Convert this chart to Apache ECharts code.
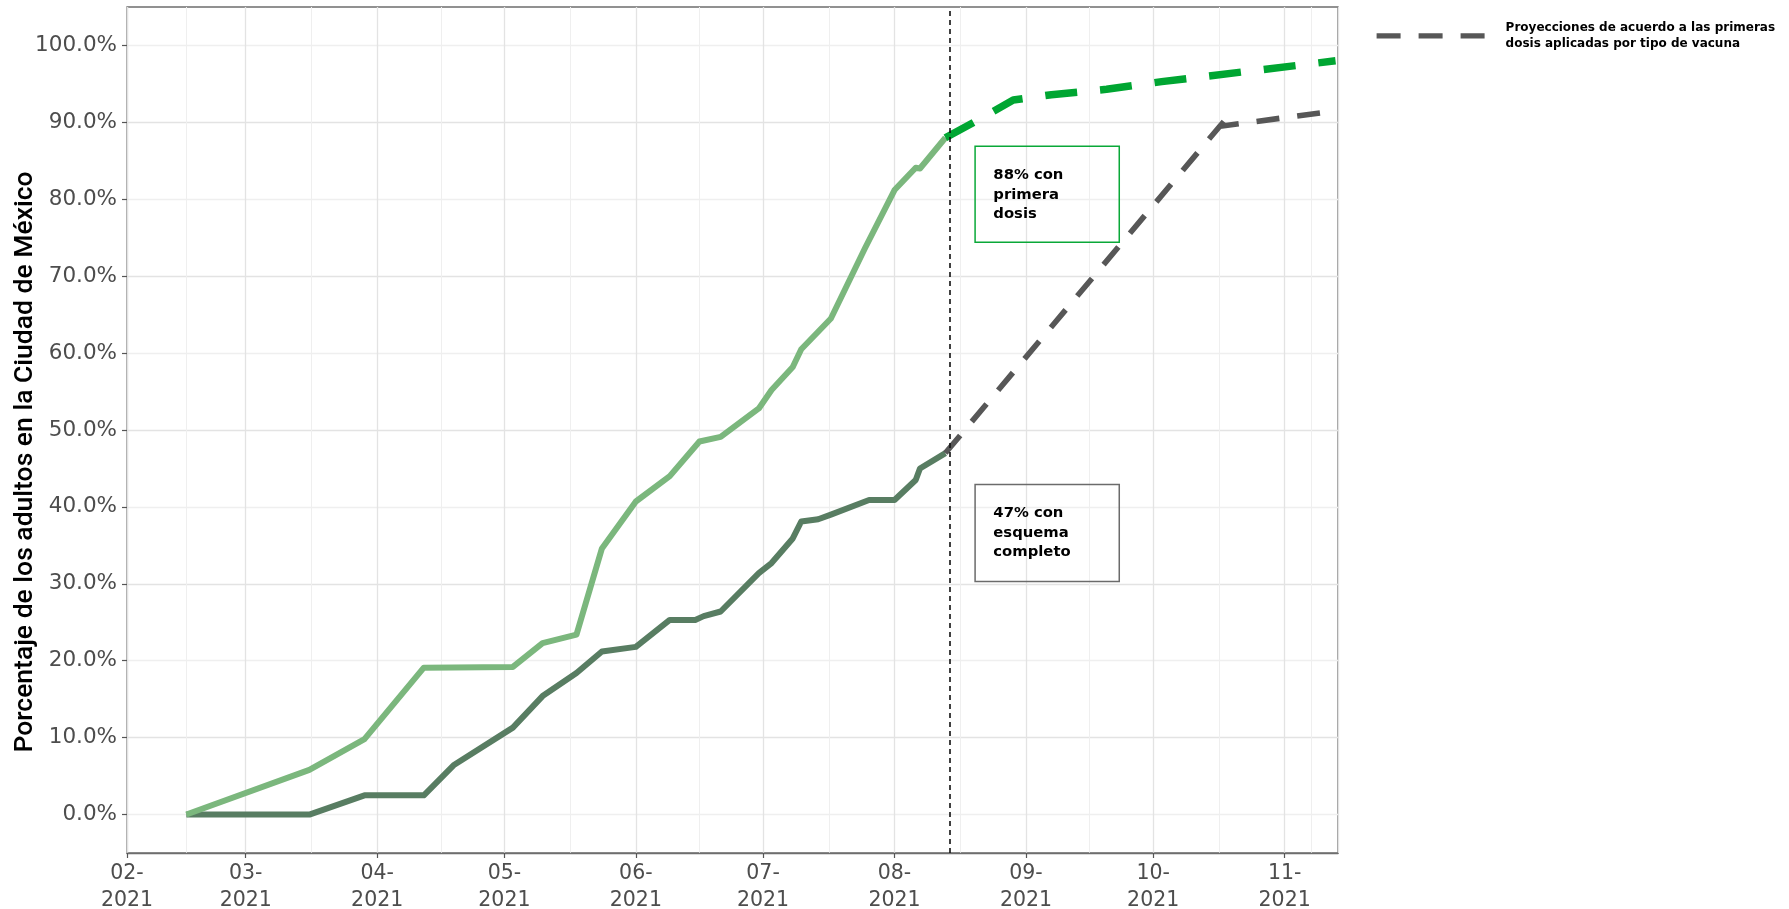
<!DOCTYPE html>
<html>
<head>
<meta charset="utf-8">
<script src="https://cdn.jsdelivr.net/npm/echarts@6/dist/echarts.min.js"></script>
<style>
html,body{margin:0;padding:0;background:#fff;}
#chart{width:1789px;height:909px;}
</style>
</head>
<body>
<div id="chart"></div>
<script>
// ---- data ----
const firstDoseDates = ['2021-02-15','2021-03-16','2021-03-29','2021-04-12','2021-05-03','2021-05-10','2021-05-18','2021-05-24','2021-06-01','2021-06-09','2021-06-16','2021-06-21','2021-06-30','2021-07-03','2021-07-08','2021-07-10','2021-07-17','2021-07-25','2021-08-01','2021-08-06','2021-08-07','2021-08-13'];
const firstDoseValues = [0,5.8,9.8,19.1,19.2,22.3,23.4,34.6,40.7,44.0,48.5,49.1,52.8,55.2,58.2,60.5,64.5,73.6,81.2,84.1,84.0,88.0];

const completeDates = ['2021-02-15','2021-03-16','2021-03-29','2021-04-12','2021-04-19','2021-05-03','2021-05-10','2021-05-18','2021-05-24','2021-06-01','2021-06-09','2021-06-15','2021-06-17','2021-06-21','2021-06-30','2021-07-03','2021-07-08','2021-07-10','2021-07-14','2021-07-17','2021-07-26','2021-08-01','2021-08-06','2021-08-07','2021-08-13'];
const completeValues = [0,0,2.5,2.5,6.4,11.3,15.4,18.4,21.2,21.8,25.3,25.3,25.8,26.4,31.4,32.7,35.9,38.1,38.4,39.0,40.9,40.9,43.5,45.0,47.0];

const projFirstDates = ['2021-08-13','2021-08-20','2021-08-29','2021-09-07','2021-09-20','2021-10-03','2021-11-13'];
const projFirstValues = [88.0,90.1,92.9,93.6,94.3,95.3,98.0];

const projCompleteDates = ['2021-08-13','2021-10-19','2021-10-17','2021-11-13'];
const projCompleteValues = [47.0,91.0,89.5,91.5];

const yTickValues = [0,10,20,30,40,50,60,70,80,90,100];
const cutoffDate = '2021-08-14';
const legendLabel = 'Proyecciones de acuerdo a las primeras dosis aplicadas por tipo de vacuna';
const legendLines = ['Proyecciones de acuerdo a las primeras', 'dosis aplicadas por tipo de vacuna'];
const yAxisTitle = 'Porcentaje de los adultos en la Ciudad de México';
const boxFirst = {text: '88% con\nprimera\ndosis', x0: '2021-08-20', x1: '2021-09-23', y0: 86.9, y1: 74.4};
const boxComplete = {text: '47% con\nesquema\ncompleto', x0: '2021-08-20', x1: '2021-09-23', y0: 42.9, y1: 30.3};

// ---- chart ----
const pair = (ds, vs) => ds.map((d, i) => [d, vs[i]]);
const pad2 = n => (n < 10 ? '0' : '') + n;
const FONT = 'DejaVu Sans';

const boxLabel = {
  show: true, position: 'insideTopLeft', distance: 0, padding: [20, 0, 0, 19],
  fontFamily: FONT, fontWeight: 'bold', fontSize: 14.8, lineHeight: 19.5, color: '#000'
};

const chart = echarts.init(document.getElementById('chart'), null, {renderer: 'canvas'});
chart.setOption({
  animation: false,
  backgroundColor: '#fff',
  grid: {left: 127, right: 451, top: 7, bottom: 56, outerBoundsMode: 'none', containLabel: false,
         show: true, borderColor: '#6e6e6e', borderWidth: 1.3, backgroundColor: 'transparent'},
  legend: {
    data: [legendLabel],
    left: 1374, top: 19.3, padding: 0,
    itemWidth: 108, itemHeight: 14, itemGap: 26,
    formatter: () => legendLines.map(l => '{g|}{t|' + l + '}').join('\n'),
    itemStyle: {opacity: 0},
    lineStyle: {color: '#575757', width: 5.2, type: [24, 18], cap: 'butt'},
    textStyle: {
      fontFamily: FONT, fontWeight: 'bold', fontSize: 12, lineHeight: 16.5, color: '#000',
      rich: {
        g: {width: 16},
        t: {fontFamily: FONT, fontWeight: 'bold', fontSize: 12, lineHeight: 16.5, color: '#000'}
      }
    }
  },
  xAxis: {
    type: 'time',
    min: new Date(2021, 1, 1).getTime(),
    max: new Date(2021, 10, 13, 14).getTime(),
    minInterval: 28 * 86400000,
    maxInterval: 31 * 86400000,
    axisLine: {show: true, onZero: false, lineStyle: {color: '#6e6e6e', width: 1.3}},
    axisTick: {show: true, length: 5, lineStyle: {color: '#555', width: 1.2}},
    axisLabel: {
      fontFamily: FONT, fontSize: 20.5, color: '#4d4d4d', lineHeight: 27, margin: 7,
      hideOverlap: false,
      formatter: v => { const d = new Date(v); return pad2(d.getMonth() + 1) + '-\n' + d.getFullYear(); }
    },
    splitLine: {show: true, lineStyle: {color: '#e3e3e3', width: 1.3}},
    minorTick: {show: false, splitNumber: 2},
    minorSplitLine: {show: true, lineStyle: {color: '#efefef', width: 1}}
  },
  yAxis: {
    type: 'value', min: -5, max: 105, interval: 5,
    name: yAxisTitle, nameLocation: 'middle', nameGap: 88, nameMoveOverlap: false,
    nameTextStyle: {fontFamily: 'Roboto', fontWeight: 500, fontSize: 26.5, color: '#000', padding: [0, 64, 0, 0]},
    axisLine: {show: false},
    axisTick: {show: true, length: 5, customValues: yTickValues, lineStyle: {color: '#555', width: 1.2}},
    axisLabel: {
      customValues: yTickValues,
      fontFamily: FONT, fontSize: 21.5, color: '#4d4d4d', margin: 10,
      formatter: v => v.toFixed(1) + '%'
    },
    splitLine: {show: true, lineStyle: {color: ['#efefef', '#e3e3e3'], width: 1.3}}
  },
  series: [
    {
      name: 'Esquema completo', type: 'line', data: pair(completeDates, completeValues),
      showSymbol: false, symbol: 'none', z: 3,
      lineStyle: {color: '#587d62', width: 6, cap: 'butt', join: 'round'},
      markArea: {
        silent: true,
        itemStyle: {color: 'rgba(0,0,0,0)', borderColor: '#6b6b6b', borderWidth: 1.5},
        label: boxLabel,
        data: [[{xAxis: boxComplete.x0, yAxis: boxComplete.y0, name: boxComplete.text}, {xAxis: boxComplete.x1, yAxis: boxComplete.y1}]]
      }
    },
    {
      name: 'Primera dosis', type: 'line', data: pair(firstDoseDates, firstDoseValues),
      showSymbol: false, symbol: 'none', z: 3,
      lineStyle: {color: '#7bb77d', width: 6, cap: 'butt', join: 'round'},
      markArea: {
        silent: true,
        itemStyle: {color: 'rgba(0,0,0,0)', borderColor: '#0aa838', borderWidth: 1.5},
        label: boxLabel,
        data: [[{xAxis: boxFirst.x0, yAxis: boxFirst.y0, name: boxFirst.text}, {xAxis: boxFirst.x1, yAxis: boxFirst.y1}]]
      },
      markLine: {
        silent: true, symbol: 'none', label: {show: false},
        lineStyle: {color: '#111', type: [5, 4], width: 1.6},
        data: [{xAxis: cutoffDate}]
      }
    },
    {
      name: 'Proyección primera dosis', type: 'line', data: pair(projFirstDates, projFirstValues),
      showSymbol: false, symbol: 'none', z: 4,
      lineStyle: {color: '#00a632', width: 7.5, type: [32, 23], cap: 'butt', join: 'round'}
    },
    {
      name: legendLabel, type: 'line', data: pair(projCompleteDates, projCompleteValues),
      showSymbol: false, symbol: 'none', z: 4,
      itemStyle: {color: '#575757'},
      lineStyle: {color: '#575757', width: 5.6, type: [23, 18], cap: 'butt', join: 'miter'}
    }
  ]
});
</script>
</body>
</html>
